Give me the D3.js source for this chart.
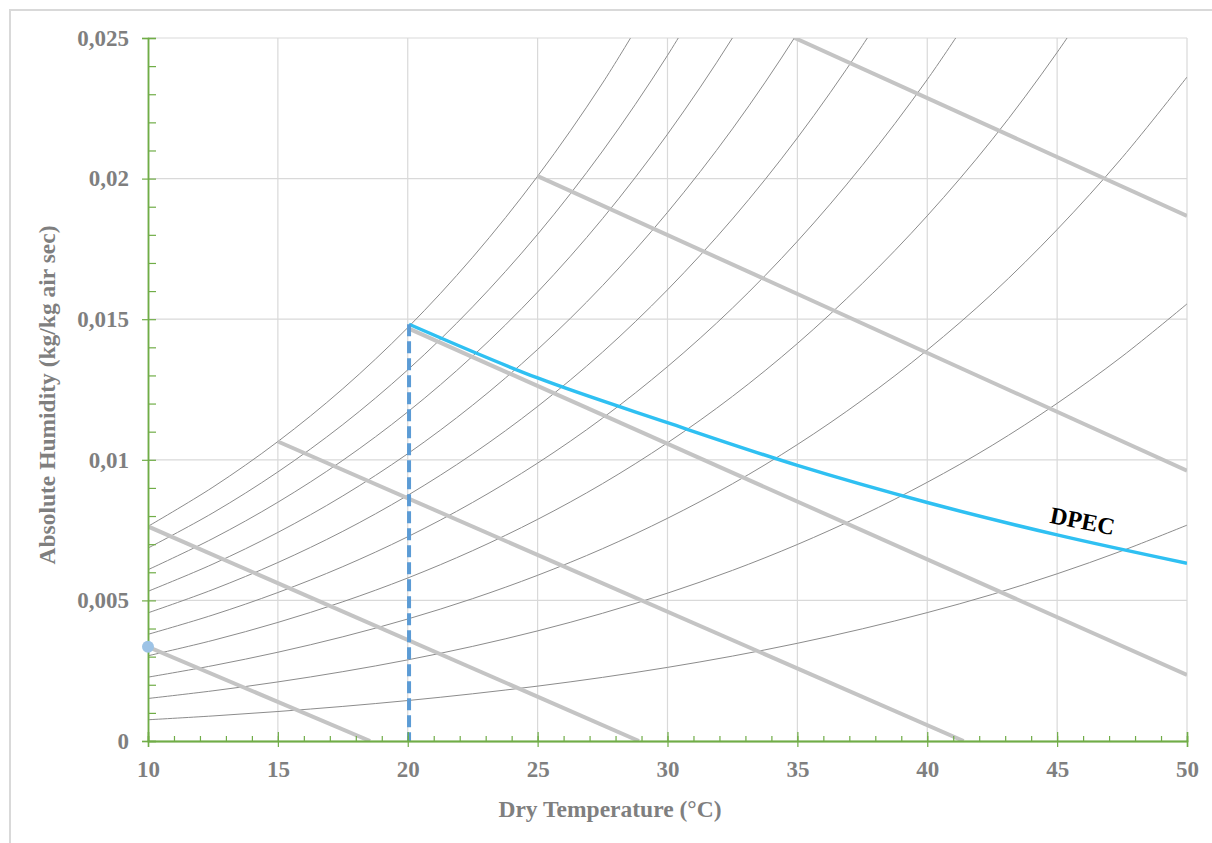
<!DOCTYPE html>
<html>
<head>
<meta charset="utf-8">
<script src="https://cdn.jsdelivr.net/npm/d3@7"></script>
<style>
    body { margin: 0; background: #fff; }
    svg { display: block; }
    text { font-family: "Liberation Serif", "Times New Roman", serif; font-weight: bold; }
</style>
</head>
<body>
<div id="chartDiv"></div>
<script>
// dry temperature (°C) at which the RH curves were read
const temps = [10, 12.5, 15, 17.5, 20, 22.5, 25, 27.5, 30, 32.5, 35, 37.5, 40, 42.5, 45, 47.5, 50];

// absolute humidity (kg/kg) of each relative humidity curve, read at the temps above
const rh10  = [0.000755, 0.000891, 0.001049, 0.001230, 0.001439, 0.001679, 0.001952, 0.002263, 0.002618, 0.003019, 0.003475, 0.003989, 0.004566, 0.005213, 0.005946, 0.006764, 0.007676];
const rh20  = [0.001512, 0.001785, 0.002101, 0.002466, 0.002885, 0.003366, 0.003916, 0.004543, 0.005258, 0.006068, 0.006989, 0.008030, 0.009200, 0.010514, 0.012008, 0.013676, 0.015544];
const rh30  = [0.002270, 0.002681, 0.003157, 0.003706, 0.004338, 0.005063, 0.005893, 0.006839, 0.007920, 0.009146, 0.010542, 0.012124, 0.013903, 0.015906, 0.018187, 0.020743, 0.023611];
const rh40  = [0.003031, 0.003580, 0.004217, 0.004951, 0.005797, 0.006770, 0.007882, 0.009152, 0.010605, 0.012255, 0.014136, 0.016271, 0.018677, 0.021390, 0.024488, 0.027968];
const rh50  = [0.003793, 0.004482, 0.005280, 0.006201, 0.007264, 0.008485, 0.009883, 0.011483, 0.013314, 0.015395, 0.017771, 0.020472, 0.023522, 0.026970];
const rh60  = [0.004557, 0.005386, 0.006347, 0.007456, 0.008737, 0.010210, 0.011898, 0.013830, 0.016045, 0.018566, 0.021448, 0.024729, 0.028442];
const rh70  = [0.005323, 0.006292, 0.007417, 0.008716, 0.010217, 0.011944, 0.013925, 0.016195, 0.018800, 0.021769, 0.025167, 0.029043];
const rh80  = [0.006091, 0.007202, 0.008491, 0.009981, 0.011704, 0.013688, 0.015966, 0.018578, 0.021579, 0.025003, 0.028929];
const rh90  = [0.006860, 0.008114, 0.009569, 0.011252, 0.013198, 0.015441, 0.018019, 0.020979, 0.024382, 0.028271];
const rh100 = [0.007632, 0.009028, 0.010650, 0.012527, 0.014699, 0.017204, 0.020086, 0.023397, 0.027210];
const rhCurves = [rh10, rh20, rh30, rh40, rh50, rh60, rh70, rh80, rh90, rh100];

// enthalpy lines: [temperature, humidity] end points
const enthalpyLines = [
    [[10, 0.00335], [18.55, 0]],
    [[10, 0.00763], [28.9, 0]],
    [[15, 0.01065], [41.4, 0]],
    [[20, 0.01468], [50, 0.00235]],
    [[25, 0.02009], [50, 0.00961]],
    [[34.9, 0.0250], [50, 0.01867]]
];

// DPEC curve
const dpecTemp = [20.05, 25, 30, 35, 40, 45, 50];
const dpecHum  = [0.01482, 0.01291, 0.01132, 0.00980, 0.00848, 0.00733, 0.00632];

// vertical dashed marker and start point
const markerTemp = 20.05;
const markerTop = 0.01482;
const startPoint = [10, 0.00335];

const xMajor = [10, 15, 20, 25, 30, 35, 40, 45, 50];
const yMajor = [0, 0.005, 0.01, 0.015, 0.02, 0.025];

const W = 1212, H = 843;
const plot = { left: 148, right: 1187, top: 38, bottom: 741 };
const green = '#70ad47';
const labelGray = '#7f7f7f';

const svg = d3.select('#chartDiv').append('svg').attr('width', W).attr('height', H);

// chart frame (extends past the picture on right and bottom)
svg.append('rect')
    .attr('x', 10).attr('y', 10).attr('width', 1400).attr('height', 1000)
    .attr('fill', 'none').attr('stroke', '#d9d9d9').attr('stroke-width', 2);

const x = d3.scaleLinear().domain([10, 50]).range([plot.left, plot.right]);
const y = d3.scaleLinear().domain([0, 0.025]).range([plot.bottom, plot.top]);

svg.append('clipPath').attr('id', 'plotClip')
    .append('rect')
    .attr('x', plot.left).attr('y', plot.top)
    .attr('width', plot.right - plot.left).attr('height', plot.bottom - plot.top);

// gridlines
const grid = svg.append('g').attr('stroke', '#d9d9d9').attr('stroke-width', 1.2);
grid.selectAll('.vg').data(xMajor.slice(1)).enter().append('line')
    .attr('x1', d => x(d)).attr('x2', d => x(d))
    .attr('y1', plot.top).attr('y2', plot.bottom);
grid.selectAll('.hg').data(yMajor.slice(1)).enter().append('line')
    .attr('x1', plot.left).attr('x2', plot.right)
    .attr('y1', d => y(d)).attr('y2', d => y(d));

const gPlot = svg.append('g').attr('clip-path', 'url(#plotClip)');

const line = d3.line()
    .x(d => x(d[0]))
    .y(d => y(d[1]))
    .curve(d3.curveCatmullRom.alpha(0.5));

// relative humidity curves
gPlot.selectAll('.rh').data(rhCurves).enter().append('path')
    .attr('class', 'rh')
    .attr('d', d => line(d.map((v, i) => [temps[i], v])))
    .attr('fill', 'none')
    .attr('stroke', '#8c8c8c')
    .attr('stroke-width', 1);

// enthalpy lines
gPlot.selectAll('.enth').data(enthalpyLines).enter().append('path')
    .attr('class', 'enth')
    .attr('d', d => d3.line().x(p => x(p[0])).y(p => y(p[1]))(d))
    .attr('fill', 'none')
    .attr('stroke', '#c4c4c4')
    .attr('stroke-width', 4);

// DPEC curve
gPlot.append('path')
    .attr('d', line(dpecTemp.map((t, i) => [t, dpecHum[i]])))
    .attr('fill', 'none')
    .attr('stroke', '#2fc0f2')
    .attr('stroke-width', 3.5);

// dashed vertical marker
svg.append('line')
    .attr('x1', x(markerTemp)).attr('x2', x(markerTemp))
    .attr('y1', y(markerTop)).attr('y2', y(0))
    .attr('stroke', '#5b9bd5')
    .attr('stroke-width', 4)
    .attr('stroke-dasharray', '12,5');

// axes
const fmtY = d => d === 0 ? '0' : String(+d.toFixed(3)).replace('.', ',');

const yAxis = svg.append('g').attr('transform', `translate(${plot.left},0)`)
    .call(d3.axisLeft(y).tickValues(yMajor).tickSize(6).tickPadding(13).tickFormat(fmtY));
const yMinor = svg.append('g').attr('transform', `translate(${plot.left},0)`)
    .call(d3.axisRight(y).tickValues(d3.range(0, 26).map(i => i / 1000)).tickSize(8).tickFormat(''));

const xAxis = svg.append('g').attr('transform', `translate(0,${plot.bottom})`)
    .call(d3.axisBottom(x).tickValues(xMajor).tickSize(6).tickPadding(14).tickFormat(d3.format('d')));
const xMajorUp = svg.append('g').attr('transform', `translate(0,${plot.bottom})`)
    .call(d3.axisTop(x).tickValues(xMajor).tickSize(9).tickFormat(''));
const xMinor = svg.append('g').attr('transform', `translate(0,${plot.bottom})`)
    .call(d3.axisTop(x).tickValues(d3.range(10, 51)).tickSize(5).tickFormat(''));

[yAxis, yMinor, xAxis, xMajorUp, xMinor].forEach(a => {
    a.selectAll('path').attr('stroke', green).attr('stroke-width', 1.5);
    a.selectAll('line').attr('stroke', green).attr('stroke-width', 1.2);
    a.selectAll('text').attr('fill', labelGray).style('font-size', '23px')
        .style('font-family', '"Liberation Serif", "Times New Roman", serif').style('font-weight', 'bold');
});

// start point marker
svg.append('circle')
    .attr('cx', x(startPoint[0])).attr('cy', y(startPoint[1]))
    .attr('r', 6).attr('fill', '#9dc3e6');

// DPEC label
svg.append('text')
    .attr('transform', `translate(1081,529) rotate(11)`)
    .attr('text-anchor', 'middle')
    .attr('fill', '#000')
    .style('font-size', '24px')
    .text('DPEC');

// axis titles
svg.append('text')
    .attr('x', 610).attr('y', 817)
    .attr('text-anchor', 'middle')
    .attr('fill', labelGray)
    .style('font-size', '23.5px')
    .text('Dry Temperature (°C)');

svg.append('text')
    .attr('transform', `translate(55,395) rotate(-90)`)
    .attr('text-anchor', 'middle')
    .attr('fill', labelGray)
    .style('font-size', '23.5px')
    .text('Absolute Humidity (kg/kg air sec)');
</script>
</body>
</html>
